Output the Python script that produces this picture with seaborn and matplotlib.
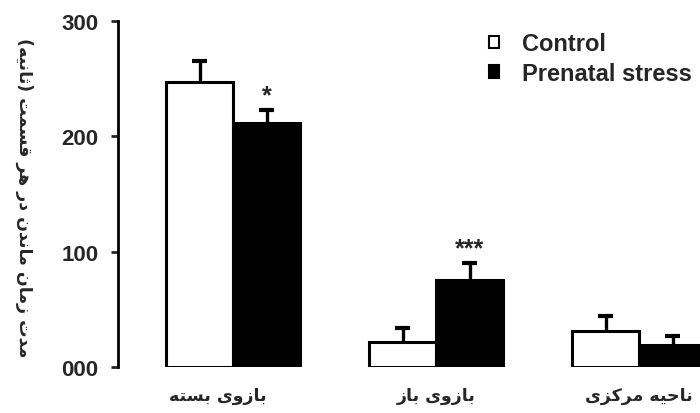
import pandas as pd
import numpy as np
import matplotlib
matplotlib.use('Agg')
import matplotlib.pyplot as plt
import matplotlib.transforms as mtransforms
import seaborn as sns

# Chart values
zones = ['بازوی بسته', 'بازوی باز', 'ناحیه مرکزی']
groups = ['Control', 'Prenatal stress']
control_mean = [247, 22, 31]
stress_mean = [211, 75, 19]
control_sem = [18, 12, 13]
stress_sem = [12, 15, 8]
stars = ['*', '***', '']
y_ticks = [0, 100, 200, 300]
y_tick_labels = ['000', '100', '200', '300']
y_label = 'مدت زمان ماندن در هر قسمت (ثانیه)'


# minimal Persian shaping (matplotlib has no bidi / joining support)
FORMS = {
    'ا': ('\uFE8D', '\uFE8E'), 'د': ('\uFEA9', '\uFEAA'), 'ر': ('\uFEAD', '\uFEAE'),
    'ز': ('\uFEAF', '\uFEB0'), 'و': ('\uFEED', '\uFEEE'),
    'ب': ('\uFE8F', '\uFE90', '\uFE91', '\uFE92'), 'ت': ('\uFE95', '\uFE96', '\uFE97', '\uFE98'),
    'ث': ('\uFE99', '\uFE9A', '\uFE9B', '\uFE9C'), 'ح': ('\uFEA1', '\uFEA2', '\uFEA3', '\uFEA4'),
    'س': ('\uFEB1', '\uFEB2', '\uFEB3', '\uFEB4'), 'ق': ('\uFED5', '\uFED6', '\uFED7', '\uFED8'),
    'ک': ('\uFB8E', '\uFB8F', '\uFB90', '\uFB91'), 'م': ('\uFEE1', '\uFEE2', '\uFEE3', '\uFEE4'),
    'ن': ('\uFEE5', '\uFEE6', '\uFEE7', '\uFEE8'), 'ه': ('\uFEE9', '\uFEEA', '\uFEEB', '\uFEEC'),
    'ی': ('\uFBFC', '\uFBFD', '\uFBFE', '\uFBFF'),
}


def shape(text):
    out = []
    for i, ch in enumerate(text):
        if ch not in FORMS:
            out.append(ch)
            continue
        prev = text[i - 1] if i > 0 else ''
        nxt = text[i + 1] if i + 1 < len(text) else ''
        join_prev = prev in FORMS and len(FORMS[prev]) == 4
        join_next = len(FORMS[ch]) == 4 and nxt in FORMS
        f = FORMS[ch]
        if join_prev and join_next:
            out.append(f[3])
        elif join_prev:
            out.append(f[1])
        elif join_next:
            out.append(f[2])
        else:
            out.append(f[0])
    vis = ''.join(out)[::-1]
    return vis.translate(str.maketrans('()', ')('))


df = pd.DataFrame({
    'zone': zones * 2,
    'group': [groups[0]] * 3 + [groups[1]] * 3,
    'time': control_mean + stress_mean,
    'sem': control_sem + stress_sem,
})

sns.set_style('white')
plt.rcParams['font.family'] = ['Liberation Sans', 'DejaVu Sans']

fig = plt.figure(figsize=(7, 4.14), dpi=100)
ax = fig.add_axes([118 / 700, 46 / 414, 1 - 118 / 700, 346.3 / 414])

sns.barplot(data=df, x='zone', y='time', hue='group', palette=['white', 'black'],
            edgecolor='black', linewidth=2.2, width=0.66, errorbar=None, ax=ax, zorder=3)

# upward-only error bars (stem + top cap) from the bar positions
cap_half = 0.037
for patch, err in zip(ax.patches, control_sem + stress_sem):
    cx = patch.get_x() + patch.get_width() / 2
    top = patch.get_height()
    ax.vlines(cx, top, top + err, color='black', linewidth=2.4, zorder=2)
    ax.hlines(top + err, cx - cap_half, cx + cap_half, color='black', linewidth=3, zorder=2)

for i, s in enumerate(stars):
    if s:
        p = ax.patches[3 + i]
        ax.text(p.get_x() + p.get_width() / 2, p.get_height() + stress_sem[i] + 2, s,
                ha='center', va='bottom', fontsize=18, fontweight='bold')

ax.set_xlim(-0.568, 2.30)
ax.set_ylim(0, 300)
ax.set_yticks(y_ticks)
ax.set_yticklabels(y_tick_labels, fontsize=16, fontweight='bold')
ax.set_xticks(range(3))
ax.set_xticklabels([shape(z) for z in zones], fontsize=12.5, fontweight='bold',
                   family=['DejaVu Sans'])
ax.tick_params(axis='y', left=True, direction='out', length=5, width=2, pad=9)
ax.tick_params(axis='x', bottom=False, pad=10)
# first category label sits a little left of its group in the original
first = ax.get_xticklabels()[0]
first.set_transform(first.get_transform() + mtransforms.ScaledTranslation(-0.15, 0, fig.dpi_scale_trans))
ax.set_xlabel('')
ax.set_ylabel('')
for side in ['top', 'right', 'bottom']:
    ax.spines[side].set_visible(False)
ax.spines['left'].set_linewidth(2)
ax.spines['left'].set_color('black')

fig.text(24 / 700, 1 - 198 / 414, shape(y_label), rotation=270, ha='center', va='center',
         fontsize=12.5, fontweight='bold', family=['DejaVu Sans'])

handles, labels = ax.get_legend_handles_labels()
for h in handles:
    h.set_linewidth(1.5)
leg = ax.legend(handles, labels, loc='upper left', bbox_to_anchor=(468 / 700, 1 - 12 / 414),
                bbox_transform=fig.transFigure, frameon=False, handlelength=0.42,
                handleheight=0.42, handletextpad=0.95, labelspacing=0.28,
                prop={'family': 'Liberation Sans', 'weight': 'bold', 'size': 17})

fig.savefig('out.png', dpi=100)
